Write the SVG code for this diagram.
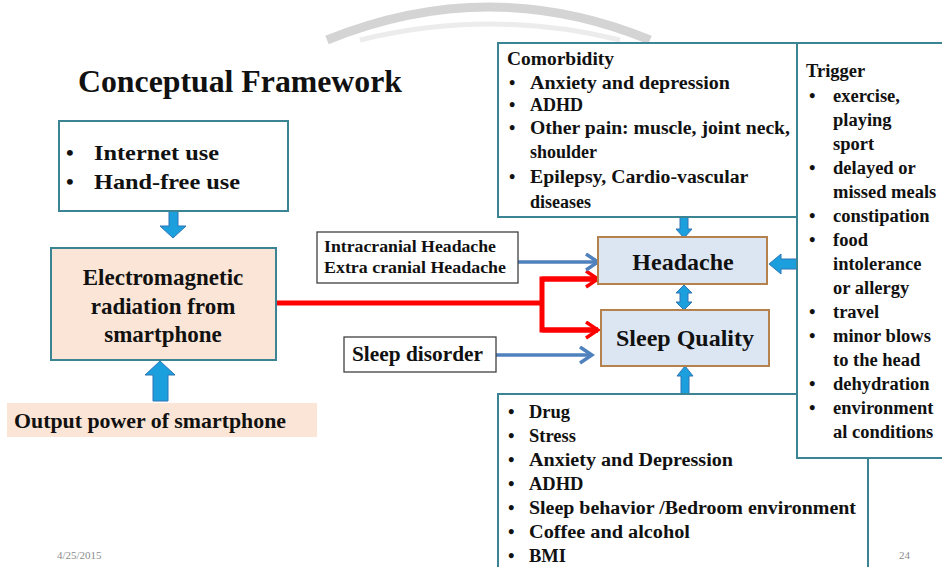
<svg xmlns="http://www.w3.org/2000/svg" width="942" height="567" viewBox="0 0 942 567">
<defs>
<style>
.t{font-family:"Liberation Serif","Times New Roman",serif;font-weight:bold;fill:#111;}
.teal{fill:#fff;stroke:#3a8494;stroke-width:2;}
.peach{fill:#fbe5d6;}
.blue{fill:#dce6f2;stroke:#b5814d;stroke-width:2;}
.lbl{fill:#fff;stroke:#404040;stroke-width:1.3;}
.blk{fill:#1b9fdd;stroke:#2e75b6;stroke-width:1;}
.red{fill:none;stroke:#ff0000;stroke-width:5;}
.bl{fill:none;stroke:#4f81bd;stroke-width:3.5;}
.foot{font-family:"Liberation Serif","Times New Roman",serif;font-size:11px;fill:#8c8c8c;}
</style>
<marker id="ar" markerUnits="userSpaceOnUse" markerWidth="16" markerHeight="20" refX="13" refY="9" orient="auto">
<path d="M1,1 L13,9 L1,17" fill="none" stroke="#ff0000" stroke-width="3.5"/>
</marker>
<marker id="ab" markerUnits="userSpaceOnUse" markerWidth="16" markerHeight="20" refX="13" refY="9" orient="auto">
<path d="M1,1 L13,9 L1,17" fill="none" stroke="#4f81bd" stroke-width="3.5"/>
</marker>
</defs>
<rect width="942" height="567" fill="#fff"/>
<g id="backdrop">
<path d="M327 40 Q490 -26 650 40" fill="none" stroke="#d4d4d4" stroke-width="9"/>
<path d="M360 40 Q490 8 620 40" fill="none" stroke="#ececec" stroke-width="5"/>
</g>
<text id="title" class="t" x="78" y="92" font-size="31" textLength="324" lengthAdjust="spacingAndGlyphs">Conceptual Framework</text>

<g id="connectors">
<polyline class="red" points="276,303 542,303"/>
<polyline class="red" points="598,279 542,279 542,330 598,330" stroke-linejoin="miter" marker-start="none"/>
<line x1="542" y1="279" x2="598" y2="279" stroke="#ff0000" stroke-width="5" marker-end="url(#ar)"/>
<line x1="542" y1="330" x2="598" y2="330" stroke="#ff0000" stroke-width="5" marker-end="url(#ar)"/>
<line x1="518" y1="262" x2="598" y2="262" class="bl" marker-end="url(#ab)"/>
<line x1="496" y1="355" x2="592" y2="355" class="bl" marker-end="url(#ab)"/>
<polygon class="blk" points="169,211 178,211 178,226 186,226 173,238 160,226 169,226"/>
<polygon class="blk" points="153,401 168,401 168,375 175,375 160,361 145,375 153,375"/>
<polygon class="blk" points="680,217 688,217 688,229 692,229 684,238 676,229 680,229"/>
<polygon class="blk" points="684,285 692,293 688,293 688,302 692,302 684,310 676,302 680,302 680,293 676,293"/>
<polygon class="blk" points="681,394 689,394 689,376 693,376 685,366 677,376 681,376"/>
<polygon class="blk" points="797,259 797,269 781,269 781,274 769,264 781,254 781,259"/>
</g>

<g id="internet">
<rect class="teal" x="59" y="121" width="229" height="90"/>
<text class="t" font-size="22"><tspan x="66" y="160">•</tspan><tspan x="94" y="160" textLength="125" lengthAdjust="spacingAndGlyphs">Internet use</tspan></text>
<text class="t" font-size="22"><tspan x="66" y="189">•</tspan><tspan x="94" y="189" textLength="146" lengthAdjust="spacingAndGlyphs">Hand-free use</tspan></text>
</g>

<g id="emr">
<rect x="51" y="248" width="225" height="112" fill="#fbe5d6" stroke="#3a8494" stroke-width="2"/>
<text class="t" font-size="23" text-anchor="middle"><tspan x="163" y="285">Electromagnetic</tspan><tspan x="163" y="314">radiation from</tspan><tspan x="163" y="342">smartphone</tspan></text>
</g>

<g id="output">
<rect class="peach" x="7" y="403" width="310" height="34"/>
<text class="t" x="14" y="428" font-size="21" textLength="272" lengthAdjust="spacingAndGlyphs">Output  power of smartphone</text>
</g>

<g id="intracranial">
<rect class="lbl" x="317" y="232" width="201" height="51"/>
<text class="t" font-size="17"><tspan x="324" y="252" textLength="172" lengthAdjust="spacingAndGlyphs">Intracranial Headache</tspan><tspan x="324" y="273" textLength="182" lengthAdjust="spacingAndGlyphs">Extra cranial Headache</tspan></text>
</g>

<g id="sleepdisorder">
<rect class="lbl" x="344" y="337" width="152" height="35"/>
<text class="t" x="352" y="361" font-size="21" textLength="131" lengthAdjust="spacingAndGlyphs">Sleep disorder</text>
</g>

<g id="headache">
<rect class="blue" x="598" y="237" width="169" height="47"/>
<text class="t" x="683" y="270" font-size="24" text-anchor="middle">Headache</text>
</g>

<g id="sleepquality">
<rect class="blue" x="601" y="310" width="168" height="56"/>
<text class="t" x="685" y="346" font-size="24" text-anchor="middle">Sleep Quality</text>
</g>

<g id="comorbidity">
<rect class="teal" x="498" y="43" width="299" height="174"/>
<text class="t" font-size="18">
<tspan x="507" y="65" textLength="107" lengthAdjust="spacingAndGlyphs">Comorbidity</tspan>
<tspan x="509" y="89">•</tspan><tspan x="530" y="89" textLength="200" lengthAdjust="spacingAndGlyphs">Anxiety  and depression</tspan>
<tspan x="509" y="111">•</tspan><tspan x="530" y="111">ADHD</tspan>
<tspan x="509" y="134">•</tspan><tspan x="530" y="134" textLength="260" lengthAdjust="spacingAndGlyphs">Other pain:  muscle, joint neck,</tspan>
<tspan x="530" y="158">shoulder</tspan>
<tspan x="509" y="183">•</tspan><tspan x="530" y="183" textLength="218" lengthAdjust="spacingAndGlyphs">Epilepsy, Cardio-vascular</tspan>
<tspan x="530" y="208">diseases</tspan>
</text>
</g>

<g id="bottomfactors">
<rect class="teal" x="498" y="394" width="370" height="190"/>
<text class="t" font-size="18.5">
<tspan x="508" y="418">•</tspan><tspan x="529" y="418">Drug</tspan>
<tspan x="508" y="442">•</tspan><tspan x="529" y="442">Stress</tspan>
<tspan x="508" y="466">•</tspan><tspan x="529" y="466" textLength="204" lengthAdjust="spacingAndGlyphs">Anxiety  and Depression</tspan>
<tspan x="508" y="490">•</tspan><tspan x="529" y="490">ADHD</tspan>
<tspan x="508" y="514">•</tspan><tspan x="529" y="514" textLength="327" lengthAdjust="spacingAndGlyphs">Sleep behavior /Bedroom environment</tspan>
<tspan x="508" y="538">•</tspan><tspan x="529" y="538" textLength="161" lengthAdjust="spacingAndGlyphs">Coffee and alcohol</tspan>
<tspan x="508" y="562">•</tspan><tspan x="529" y="562">BMI</tspan>
</text>
</g>

<g id="trigger">
<rect class="teal" x="797" y="43" width="170" height="415"/>
<text class="t" font-size="18.5">
<tspan x="806" y="77">Trigger</tspan>
<tspan x="809" y="102">•</tspan><tspan x="833" y="102">exercise,</tspan>
<tspan x="833" y="126">playing</tspan>
<tspan x="833" y="150">sport</tspan>
<tspan x="809" y="174">•</tspan><tspan x="833" y="174">delayed or</tspan>
<tspan x="833" y="198">missed meals</tspan>
<tspan x="809" y="222">•</tspan><tspan x="833" y="222">constipation</tspan>
<tspan x="809" y="246">•</tspan><tspan x="833" y="246">food</tspan>
<tspan x="833" y="270">intolerance</tspan>
<tspan x="833" y="294">or allergy</tspan>
<tspan x="809" y="318">•</tspan><tspan x="833" y="318">travel</tspan>
<tspan x="809" y="342">•</tspan><tspan x="833" y="342">minor blows</tspan>
<tspan x="833" y="366">to the head</tspan>
<tspan x="809" y="390">•</tspan><tspan x="833" y="390">dehydration</tspan>
<tspan x="809" y="414">•</tspan><tspan x="833" y="414">environment</tspan>
<tspan x="833" y="438">al conditions</tspan>
</text>
</g>

<text class="foot" x="57" y="559">4/25/2015</text>
<text class="foot" x="899" y="559">24</text>
</svg>
